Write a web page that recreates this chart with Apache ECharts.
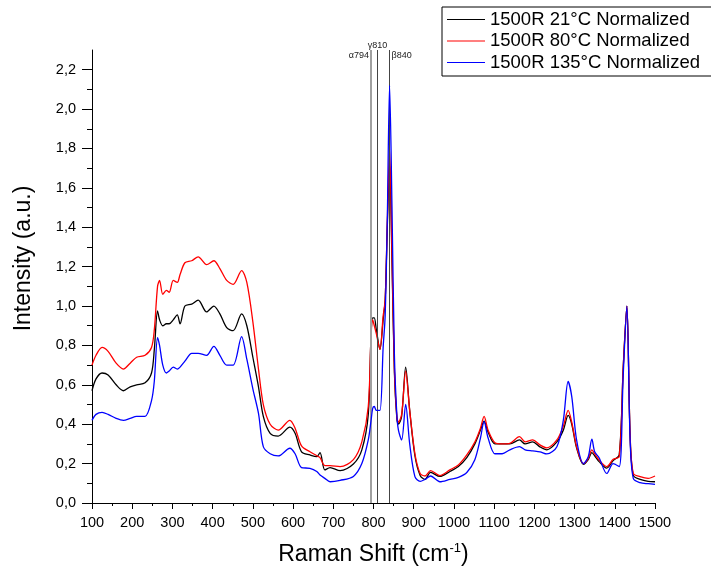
<!DOCTYPE html>
<html><head><meta charset="utf-8">
<script src="https://cdn.jsdelivr.net/npm/echarts@6/dist/echarts.min.js"></script>
<style>html,body{margin:0;padding:0;background:#fff}#c{width:711px;height:575px}</style>
</head><body><div id="c"></div>
<script>
const waveNumbers = [100,110,125,140,160,178,195,211,232,248,255,263,268,276,285,292,302,312,319,331,348,364,385,403,418,435,451,472,485,500,514,526,543,563,592,605,621,642,659,667,679,692,717,750,771,787,794,798,802,807,816,824,829,834,840,846,852,858,862,870,880,890,903,916,928,942,965,990,1011,1032,1052,1066,1075,1085,1102,1120,1139,1163,1177,1196,1214,1231,1256,1272,1284,1293,1305,1322,1334,1343,1350,1361,1380,1396,1411,1421,1430,1438,1446,1463,1483,1500];

const intensity21C = [0.57,0.63,0.66,0.65,0.60,0.57,0.59,0.60,0.61,0.66,0.78,0.975,0.93,0.90,0.91,0.91,0.93,0.955,0.91,1.00,1.01,1.03,0.97,1.00,0.96,0.89,0.875,0.96,0.90,0.74,0.59,0.44,0.354,0.34,0.385,0.354,0.26,0.244,0.235,0.256,0.168,0.18,0.164,0.198,0.27,0.45,0.86,0.94,0.94,0.88,0.78,0.93,1.03,1.38,1.72,1.22,0.66,0.43,0.40,0.44,0.69,0.47,0.24,0.14,0.12,0.155,0.135,0.16,0.185,0.23,0.30,0.37,0.415,0.36,0.30,0.30,0.30,0.32,0.30,0.31,0.285,0.27,0.31,0.37,0.445,0.40,0.28,0.196,0.22,0.256,0.24,0.21,0.177,0.215,0.244,0.69,1.00,0.35,0.14,0.12,0.11,0.108];

const intensity80C = [0.70,0.75,0.79,0.77,0.71,0.68,0.71,0.74,0.75,0.79,0.88,1.10,1.13,1.06,1.08,1.07,1.13,1.12,1.16,1.22,1.23,1.25,1.21,1.23,1.19,1.13,1.11,1.18,1.12,0.92,0.68,0.50,0.40,0.37,0.42,0.38,0.29,0.26,0.24,0.23,0.19,0.19,0.185,0.22,0.31,0.49,0.85,0.93,0.90,0.86,0.78,0.95,1.03,1.40,1.80,1.25,0.68,0.44,0.41,0.45,0.67,0.47,0.25,0.15,0.137,0.164,0.139,0.168,0.193,0.244,0.31,0.38,0.44,0.37,0.306,0.30,0.303,0.337,0.31,0.32,0.295,0.28,0.32,0.39,0.47,0.41,0.286,0.20,0.227,0.27,0.25,0.218,0.185,0.222,0.235,0.69,1.00,0.354,0.15,0.134,0.125,0.137];

const intensity135C = [0.42,0.45,0.46,0.45,0.43,0.42,0.43,0.44,0.44,0.52,0.62,0.84,0.80,0.70,0.66,0.67,0.69,0.68,0.69,0.72,0.76,0.76,0.75,0.795,0.75,0.70,0.70,0.845,0.73,0.58,0.455,0.286,0.25,0.239,0.278,0.25,0.18,0.176,0.16,0.142,0.125,0.108,0.115,0.135,0.20,0.32,0.42,0.48,0.49,0.47,0.47,0.79,0.95,1.40,2.12,1.50,0.75,0.45,0.37,0.32,0.50,0.30,0.134,0.11,0.12,0.137,0.108,0.12,0.13,0.155,0.22,0.33,0.413,0.33,0.25,0.25,0.27,0.286,0.27,0.265,0.26,0.249,0.286,0.42,0.617,0.54,0.32,0.20,0.235,0.324,0.26,0.23,0.15,0.20,0.185,0.65,1.00,0.33,0.125,0.103,0.098,0.095];

const seriesNames = ['1500R 21°C Normalized','1500R 80°C Normalized','1500R 135°C Normalized'];
const seriesColors = ['#000000','#ff0000','#0000ff'];
const bandPositions = [794, 810, 840];
const bandLabels = ['\u03b1794', '\u03b3810', '\u03b2840'];
const yTickValues = [0,0.2,0.4,0.6,0.8,1.0,1.2,1.4,1.6,1.8,2.0,2.2];

const pairs = ys => waveNumbers.map((x,i)=>[x, ys[i]]);
const chart = echarts.init(document.getElementById('c'), null, {renderer:'canvas'});
const font = 'Liberation Sans, Arial, sans-serif';

const lineSeries = [intensity21C, intensity80C, intensity135C].map((ys, k) => ({
  name: seriesNames[k], type: 'line', data: pairs(ys), symbol: 'none', smooth: 0.3,
  lineStyle: {color: seriesColors[k], width: 1.3}, itemStyle: {color: seriesColors[k]},
  z: 3 + k, animation: false
}));
lineSeries[0].markLine = {
  silent: true, symbol: 'none', animation: false, label: {show: false},
  data: bandPositions.map((x, i) => ({xAxis: x, lineStyle: i === 0 ? {color: '#a0a0a0', width: 2, type: 'solid'} : {color: '#444', width: 1, type: 'solid'}}))
};

chart.setOption({
  animation: false,
  textStyle: {fontFamily: font},
  grid: {left: 92, right: 56, top: 50, bottom: 72, containLabel: false},
  legend: {
    orient: 'vertical', left: 442, top: 7, data: seriesNames,
    itemWidth: 38, itemHeight: 14, itemGap: 2.5,
    borderColor: '#000', borderWidth: 1, padding: [3, 16, 4, 5],
    textStyle: {fontSize: 18.5, lineHeight: 19, color: '#000', fontFamily: font},
    icon: 'path://M0,5 L40,5 L40,6.3 L0,6.3 Z'
  },
  xAxis: {
    type: 'value', min: 100, max: 1500, interval: 100,
    name: '{a|Raman Shift (cm}{s|-1}{a|)}', nameLocation: 'middle', nameGap: 39,
    nameTextStyle: {rich: {a: {fontSize: 23, color: '#000', fontFamily: font}, s: {fontSize: 13, color: '#000', verticalAlign: 'top', padding: [0,0,12,0], fontFamily: font}}},
    axisLine: {show: true, lineStyle: {color: '#000', width: 1}, onZero: false},
    axisTick: {show: true, length: 6, lineStyle: {color: '#000'}},
    minorTick: {show: true, splitNumber: 2, length: 3, lineStyle: {color: '#000'}},
    splitLine: {show: false},
    axisLabel: {fontSize: 14.5, color: '#000', margin: 12, formatter: v => String(v)}
  },
  yAxis: {
    type: 'value', min: 0, max: 2.3, interval: 0.2,
    name: 'Intensity (a.u.)', nameLocation: 'middle', nameGap: 57,
    nameTextStyle: {fontSize: 23, color: '#000', fontFamily: font, padding: [0, 0, 0, 36]},
    axisLine: {show: true, lineStyle: {color: '#000', width: 1}},
    axisTick: {show: true, length: 10, lineStyle: {color: '#000'}, customValues: yTickValues},
    minorTick: {show: true, splitNumber: 2, length: 5, lineStyle: {color: '#000'}},
    splitLine: {show: false},
    axisLabel: {fontSize: 14.5, color: '#000', margin: 16, customValues: yTickValues,
      formatter: v => v.toFixed(1).replace('.', ',')}
  },
  series: lineSeries
});

const topY = chart.convertToPixel({gridIndex: 0}, [100, 2.3])[1];
const g = bandPositions.map((x, i) => {
  const px = chart.convertToPixel({gridIndex: 0}, [x, 0])[0];
  const cfg = [
    {x: px - 2, y: topY + 6, align: 'right'},
    {x: px, y: topY - 4, align: 'center'},
    {x: px + 2, y: topY + 6, align: 'left'}
  ][i];
  return {type: 'text', x: cfg.x, y: cfg.y, z: 10, silent: true,
    style: {text: bandLabels[i], fontSize: 9, fill: '#222', align: cfg.align, verticalAlign: 'middle', fontFamily: font}};
});
chart.setOption({graphic: g});
</script></body></html>
